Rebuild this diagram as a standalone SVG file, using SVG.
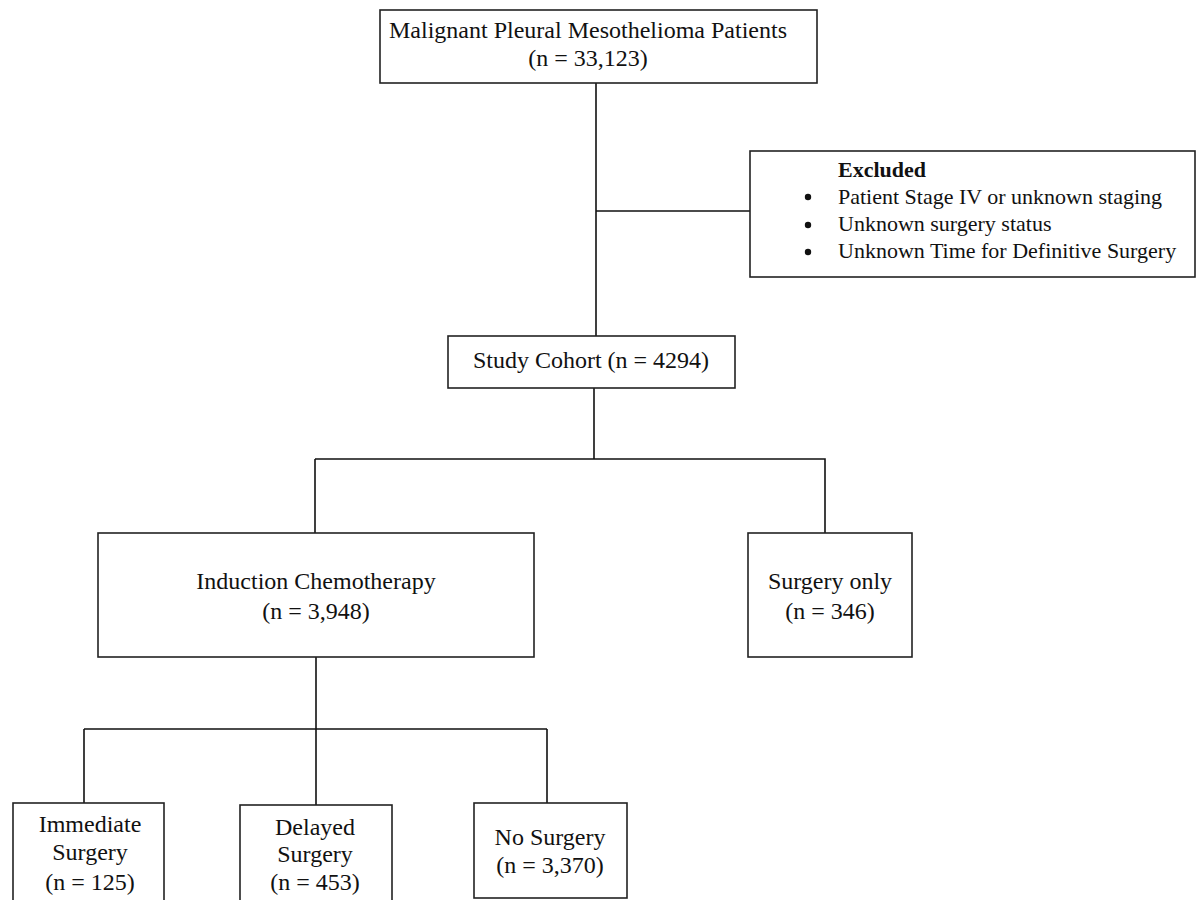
<svg xmlns="http://www.w3.org/2000/svg" width="1203" height="900" viewBox="0 0 1203 900">
<style>
.box{fill:#fff;stroke:#222;stroke-width:1.6}
.ln{fill:none;stroke:#111;stroke-width:1.6}
text{font-family:"Liberation Serif","Times New Roman",serif;fill:#111;font-size:24px}
.c{text-anchor:middle}
.ex{font-size:22px}
</style>
<rect width="1203" height="900" fill="#fff"/>
<g id="connectors">
<path class="ln" d="M596 83V336M596 211H750M594 388V459M315 459H825V533M315 459V533M316 657V805M84 729H547M84 729V803M547 729V803"/>
</g>
<g id="n1"><rect class="box" x="380" y="10" width="437" height="73"/>
<text class="c" x="588" y="38">Malignant Pleural Mesothelioma Patients</text>
<text class="c" x="588" y="66">(n = 33,123)</text></g>
<g id="excluded"><rect class="box" x="750" y="151" width="445" height="126"/>
<text class="ex" x="838" y="177" font-weight="bold">Excluded</text>
<circle cx="808" cy="197" r="3.2" fill="#111"/><text class="ex" x="838" y="204">Patient Stage IV or unknown staging</text>
<circle cx="808" cy="225" r="3.2" fill="#111"/><text class="ex" x="838" y="231">Unknown surgery status</text>
<circle cx="808" cy="252" r="3.2" fill="#111"/><text class="ex" x="838" y="258">Unknown Time for Definitive Surgery</text></g>
<g id="cohort"><rect class="box" x="448" y="336" width="287" height="52"/>
<text class="c" x="591" y="368">Study Cohort (n = 4294)</text></g>
<g id="induction"><rect class="box" x="98" y="533" width="436" height="124"/>
<text class="c" x="316" y="589">Induction Chemotherapy</text>
<text class="c" x="316" y="619">(n = 3,948)</text></g>
<g id="surgeryonly"><rect class="box" x="748" y="533" width="164" height="124"/>
<text class="c" x="830" y="589">Surgery only</text>
<text class="c" x="830" y="619">(n = 346)</text></g>
<g id="immediate"><rect class="box" x="13" y="803" width="151" height="110"/>
<text class="c" x="90" y="832">Immediate</text>
<text class="c" x="90" y="860">Surgery</text>
<text class="c" x="90" y="890">(n = 125)</text></g>
<g id="delayed"><rect class="box" x="240" y="805" width="152" height="110"/>
<text class="c" x="315" y="835">Delayed</text>
<text class="c" x="315" y="862">Surgery</text>
<text class="c" x="315" y="890">(n = 453)</text></g>
<g id="nosurgery"><rect class="box" x="474" y="803" width="153" height="95"/>
<text class="c" x="550" y="845">No Surgery</text>
<text class="c" x="550" y="873">(n = 3,370)</text></g>
</svg>
